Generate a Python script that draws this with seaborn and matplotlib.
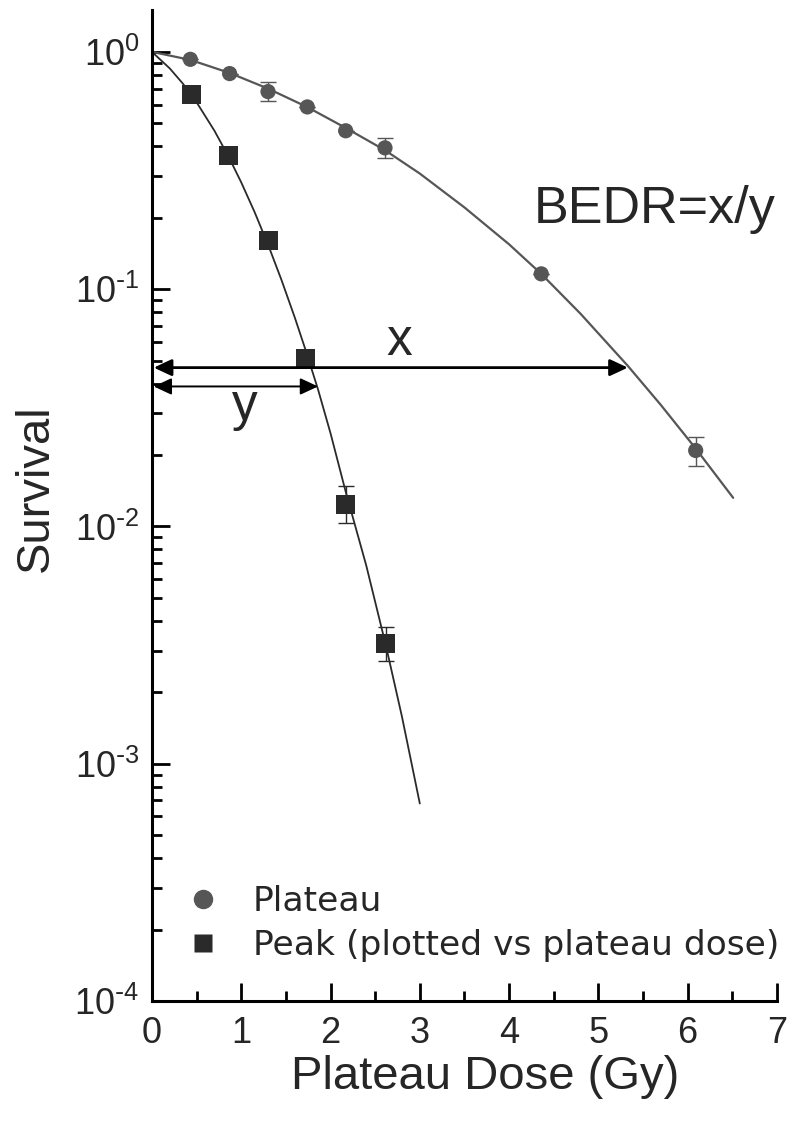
import numpy as np
import pandas as pd
import matplotlib
matplotlib.use("Agg")
import matplotlib.pyplot as plt
import matplotlib.font_manager as fm
from matplotlib.lines import Line2D
from matplotlib.ticker import LogLocator, MultipleLocator, NullFormatter, FuncFormatter
import seaborn as sns

# ---------------- data ----------------
plateau_dose = [0.43, 0.87, 1.30, 1.74, 2.17, 2.61, 4.36, 6.09]
plateau_surv = [0.93, 0.81, 0.68, 0.586, 0.465, 0.394, 0.116, 0.0209]
plateau_err_lo = [0, 0, 0.06, 0, 0, 0.036, 0, 0.003]
plateau_err_hi = [0, 0, 0.07, 0, 0, 0.039, 0, 0.003]

peak_dose = [0.44, 0.86, 1.31, 1.72, 2.17, 2.62]
peak_surv = [0.659, 0.367, 0.161, 0.0512, 0.0124, 0.00322]
peak_err_lo = [0, 0, 0, 0, 0.0021, 0.0005]
peak_err_hi = [0, 0, 0, 0, 0.0024, 0.00055]

plateau_fit_dose = [0, 0.43, 0.87, 1.3, 1.74, 2.17, 2.61, 3.0, 3.5, 4.0, 4.36,
                    4.8, 5.33, 5.7, 6.09, 6.51]
plateau_fit_surv = [1.0, 0.925, 0.815, 0.70, 0.585, 0.478, 0.385, 0.307, 0.221,
                    0.1545, 0.116, 0.0788, 0.0475, 0.0325, 0.0213, 0.0132]

peak_fit_dose = [0, 0.2, 0.35, 0.5, 0.7, 0.86, 1.0, 1.15, 1.31, 1.45, 1.6, 1.72,
                 1.86, 2.0, 2.17, 2.4, 2.62, 2.8, 3.0]
peak_fit_surv = [1.0, 0.851, 0.732, 0.613, 0.465, 0.3606, 0.2818, 0.2111, 0.1507,
                 0.1095, 0.0759, 0.0555, 0.0378, 0.0247, 0.0140, 0.00685, 0.00315,
                 0.00158, 0.00068]

legend_labels = ["Plateau", "Peak (plotted vs plateau dose)"]
x_ticks = [0, 1, 2, 3, 4, 5, 6, 7]

# arrows / annotations (data coordinates)
x_arrow = (0.0, 5.33, 0.0467)
y_arrow = (0.0, 1.86, 0.0389)

# ---------------- style ----------------
sns.set_theme(style="ticks")
plt.rcParams["font.family"] = ["Liberation Sans", "DejaVu Sans"]
plt.rcParams["mathtext.default"] = "regular"
plt.rcParams["axes.unicode_minus"] = False

names = {f.name for f in fm.fontManager.ttflist}
tick_font = None
for cand in ["Liberation Sans Narrow", "DejaVu Sans Condensed", "Arial Narrow"]:
    if cand in names:
        tick_font = cand
        break
if tick_font is None:
    tick_font = "Liberation Sans"
    tick_size = 26
else:
    tick_size = 31

c_plat = "#565656"
c_peak = "#2a2a2a"

fig = plt.figure(figsize=(7.89, 11.32), dpi=100)
ax = fig.add_axes([0.1926, 0.1157, 0.7921, 0.8754])

# fitted curves
sns.lineplot(x=plateau_fit_dose, y=plateau_fit_surv, ax=ax, color=c_plat, lw=1.6,
             sort=False, estimator=None, zorder=2)
sns.lineplot(x=peak_fit_dose, y=peak_fit_surv, ax=ax, color=c_peak, lw=1.3,
             sort=False, estimator=None, zorder=2)

# error bars
ax.errorbar(plateau_dose, plateau_surv, yerr=[plateau_err_lo, plateau_err_hi],
            fmt="none", ecolor=c_plat, elinewidth=1.0, capsize=6, capthick=1.0,
            zorder=3)
ax.errorbar(peak_dose, peak_surv, yerr=[peak_err_lo, peak_err_hi],
            fmt="none", ecolor=c_peak, elinewidth=1.0, capsize=6, capthick=1.0,
            zorder=3)

# markers
sns.scatterplot(x=plateau_dose, y=plateau_surv, ax=ax, marker="o", s=120,
                color=c_plat, edgecolor="none", zorder=4)
sns.scatterplot(x=peak_dose, y=peak_surv, ax=ax, marker="s", s=190,
                color=c_peak, edgecolor="none", zorder=4)

ax.set_yscale("log")
ax.set_xlim(0, 7)
ax.set_ylim(1e-4, 1.5)


def log_fmt(v, pos):
    e = int(round(np.log10(v)))
    if e < 0:
        return r"$\mathdefault{10^{\text{-}%d}}$" % (-e)
    return r"$\mathdefault{10^{%d}}$" % e


# ticks
ax.xaxis.set_major_locator(MultipleLocator(1))
ax.xaxis.set_minor_locator(MultipleLocator(0.5))
ax.yaxis.set_major_locator(LogLocator(base=10, numticks=10))
ax.yaxis.set_minor_locator(LogLocator(base=10, subs=np.arange(2, 10), numticks=20))
ax.yaxis.set_major_formatter(FuncFormatter(log_fmt))
ax.yaxis.set_minor_formatter(NullFormatter())
ax.set_xticks(x_ticks)
ax.set_xticklabels([str(t) for t in x_ticks])

ax.tick_params(axis="both", which="major", direction="in", length=13, width=2.0,
               color="black")
ax.tick_params(axis="both", which="minor", direction="in", length=7.5, width=2.0,
               color="black")
ax.tick_params(axis="x", which="major", labelsize=tick_size, pad=11,
               labelfontfamily=tick_font)
ax.tick_params(axis="y", which="major", labelsize=tick_size, pad=9,
               labelfontfamily=tick_font)

for side in ["top", "right"]:
    ax.spines[side].set_visible(False)
for side in ["left", "bottom"]:
    ax.spines[side].set_linewidth(2.2)
    ax.spines[side].set_color("black")

ax.set_xlabel("Plateau Dose (Gy)", fontsize=34, va="center")
ax.xaxis.set_label_coords(0.533, -0.077)
ax.set_ylabel("Survival", fontsize=34, va="center")
ax.yaxis.set_label_coords(-0.186, 0.518)

# arrows
astyle = "<|-|>,head_length=0.6,head_width=0.28"
ax.annotate("", xy=(x_arrow[1], x_arrow[2]), xytext=(x_arrow[0] + 0.02, x_arrow[2]),
            arrowprops=dict(arrowstyle=astyle, color="black", lw=2.0,
                            shrinkA=0, shrinkB=0, mutation_scale=18), zorder=5)
ax.annotate("", xy=(y_arrow[1], y_arrow[2]), xytext=(y_arrow[0] + 0.02, y_arrow[2]),
            arrowprops=dict(arrowstyle=astyle, color="black", lw=1.4,
                            shrinkA=0, shrinkB=0, mutation_scale=18), zorder=5)

ax.text(2.77, 0.0529, "x", fontsize=37, ha="center", va="baseline")
ax.text(1.04, 0.0281, "y", fontsize=37, ha="center", va="baseline")
ax.text(6.98, 0.190, "BEDR=x/y", fontsize=37.5, ha="right", va="baseline")

# legend
handles = [Line2D([], [], ls="", marker="o", ms=14, color=c_plat, mec="none"),
           Line2D([], [], ls="", marker="s", ms=13.5, color=c_peak, mec="none")]
ax.legend(handles, legend_labels, loc="lower left", bbox_to_anchor=(0.054, 0.039),
          frameon=False, prop={"family": "DejaVu Sans", "size": 24.8},
          handlelength=1.0, handletextpad=0.95, labelspacing=0.32,
          borderpad=0, borderaxespad=0)

fig.savefig("out.png", dpi=100)
